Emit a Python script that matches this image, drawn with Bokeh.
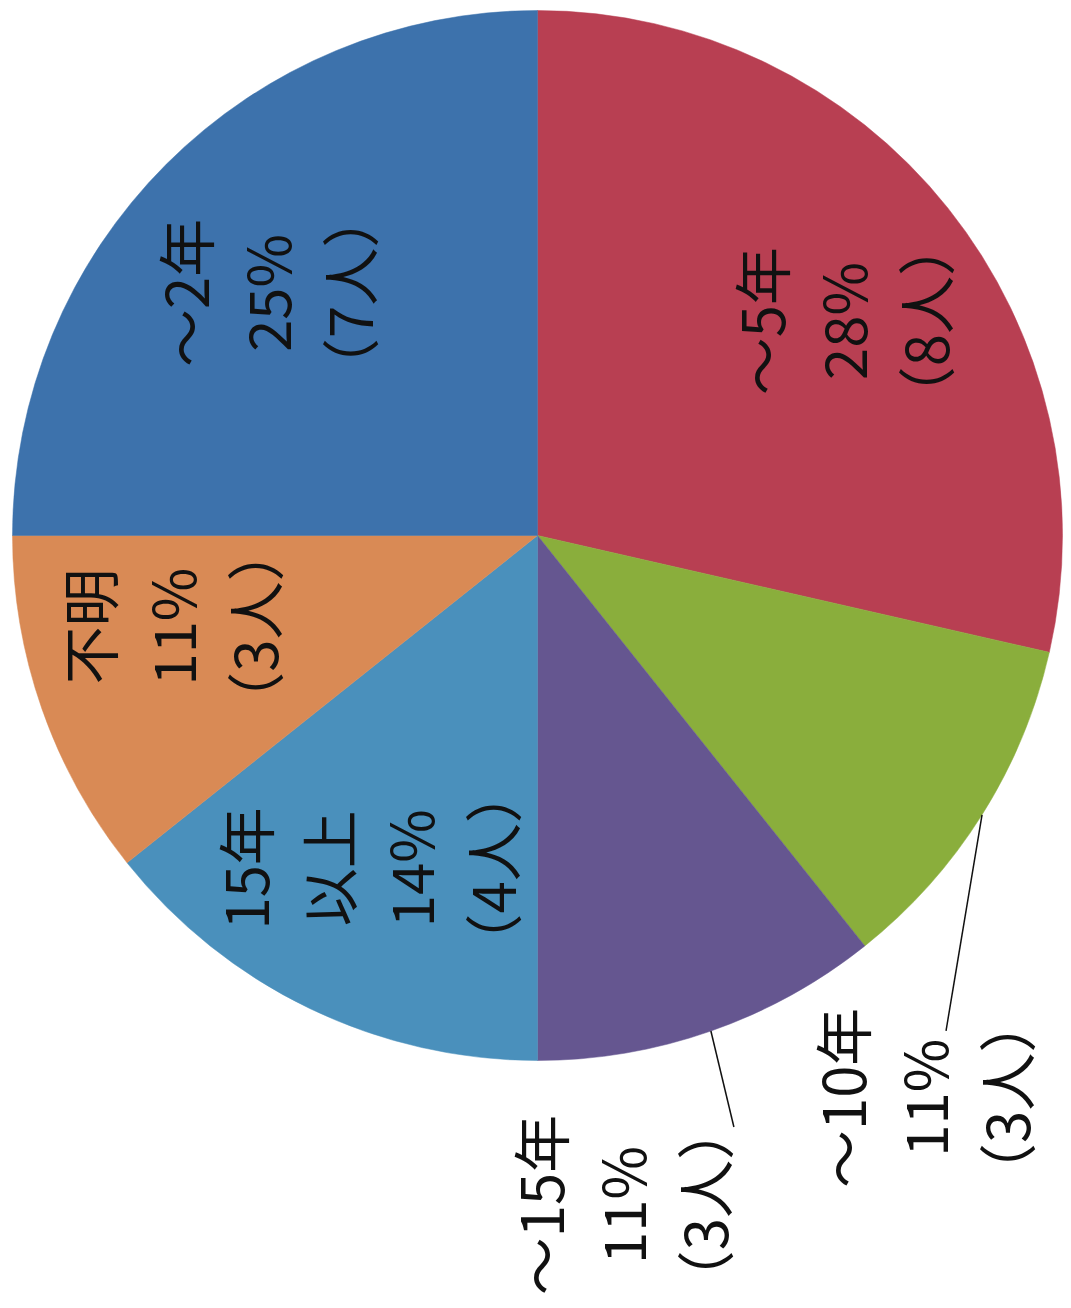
import math
from bokeh.plotting import figure
from bokeh.models import Range1d, ColumnDataSource
from bokeh.core.properties import value
from bokeh.embed import file_html
from bokeh.resources import INLINE

# ---- data ----
categories = ["～5年", "～10年", "～15年", "15年\n以上", "不明", "～2年"]
counts = [8, 3, 3, 4, 3, 7]
percent_labels = ["28%", "11%", "11%", "14%", "11%", "25%"]
colors = ["#B83F52", "#8AAE3C", "#655690", "#4A90BC", "#D98A55", "#3D72AC"]

# ---- layout ----
W, H = 1071, 1308
CX, CY = 537, H - 535
R = 525
FONT = value("Noto Sans CJK JP")
# label placement: (inside?, nudge_x px, nudge_y px (screen down +))
label_layout = {
    "～5年": (True, 13, 18),
    "～10年": (False, -23, 67),
    "～15年": (False, -113, 78),
    "15年\n以上": (True, -8, -3),
    "不明": (True, -15, -32),
    "～2年": (True, -8, 21),
}
leader_offsets = {"～10年": (-36, 216), "～15年": (23, 96)}

total = sum(counts)
starts, ends, mids = [], [], []
acc = 0
for c in counts:
    a0 = math.pi / 2 - 2 * math.pi * acc / total
    acc += c
    a1 = math.pi / 2 - 2 * math.pi * acc / total
    starts.append(a0)
    ends.append(a1)
    mids.append((a0 + a1) / 2)

p = figure(width=W, height=H, x_range=Range1d(0, W), y_range=Range1d(0, H),
           output_backend="svg", toolbar_location=None, min_border=0)
p.axis.visible = False
p.grid.visible = False
p.outline_line_color = None
p.background_fill_color = "white"
p.border_fill_color = "white"

src = ColumnDataSource(dict(x=[CX] * len(counts), y=[CY] * len(counts),
                            start=starts, end=ends, color=colors))
p.wedge(x="x", y="y", radius=R, start_angle="start", end_angle="end",
        direction="clock", fill_color="color", line_color="color",
        line_width=0.5, source=src)

tx, ty, tt = [], [], []
sx0, sy0, sx1, sy1 = [], [], [], []
for cat, pct, cnt, m in zip(categories, percent_labels, counts, mids):
    inside, nx, ny = label_layout[cat]
    if inside:
        r = 0.71 * R
        x = CX + r * math.cos(m) + nx
        y = CY + r * math.sin(m) - ny
    else:
        ex = CX + R * math.cos(m)
        ey = CY + R * math.sin(m)
        ox, oy = leader_offsets[cat]
        lx, ly = ex + ox, ey - oy
        sx0.append(ex); sy0.append(ey); sx1.append(lx); sy1.append(ly)
        x = lx + nx
        y = ly - ny
    tx.append(x)
    ty.append(y)
    tt.append(f"{cat}\n{pct}\n（{cnt}人）")

p.segment(x0=sx0, y0=sy0, x1=sx1, y1=sy1, line_color="#111111", line_width=1.5)

p.text(x=tx, y=ty, text=tt, angle=math.pi / 2, text_font=FONT,
       text_font_size="58px", text_align="center", text_baseline="middle",
       text_line_height=0.98, text_color="#111111")

open("out.html", "w").write(file_html(p, INLINE))
